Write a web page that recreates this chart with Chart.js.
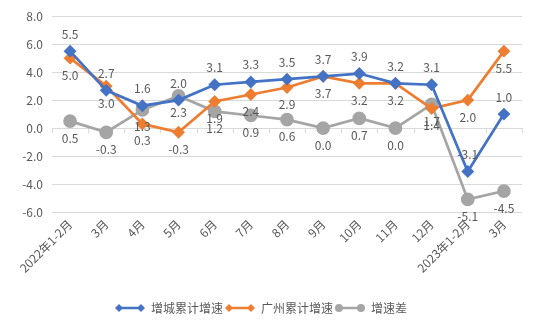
<!DOCTYPE html>
<html>
<head>
<meta charset="utf-8">
<script src="https://cdn.jsdelivr.net/npm/chart.js@4/dist/chart.umd.min.js"></script>
<style>
  html, body { margin: 0; padding: 0; background: #fff; }
  #wrap { width: 537px; height: 324px; }
</style>
</head>
<body>
<div id="wrap"><canvas id="myLineChart"></canvas></div>
<script>
const months = ["2022年1-2月", "3月", "4月", "5月", "6月", "7月", "8月", "9月", "10月", "11月", "12月", "2023年1-2月", "3月"];
const zengcheng = [5.5, 2.7, 1.6, 2.0, 3.1, 3.3, 3.5, 3.7, 3.9, 3.2, 3.1, -3.1, 1.0];
const guangzhou = [5.0, 3.0, 0.3, -0.3, 1.9, 2.4, 2.9, 3.7, 3.2, 3.2, 1.4, 2.0, 5.5];
const gap = [0.5, -0.3, 1.3, 2.3, 1.2, 0.9, 0.6, 0.0, 0.7, 0.0, 1.7, -5.1, -4.5];
const yTicks = [-6, -4, -2, 0, 2, 4, 6, 8];

const FONT = '"Noto Sans CJK SC", "Noto Sans", sans-serif';
const TEXT = "#595959";

// small line+marker picture for the legend
function legendIcon(color, style) {
  const c = document.createElement("canvas");
  c.width = 30;
  c.height = 10;
  const g = c.getContext("2d");
  g.strokeStyle = color;
  g.fillStyle = color;
  g.lineWidth = 2.5;
  g.beginPath();
  g.moveTo(2, 5);
  g.lineTo(28, 5);
  g.stroke();
  [4, 26].forEach(function (x) {
    g.beginPath();
    if (style === "circle") {
      g.arc(x, 5, 4, 0, Math.PI * 2);
    } else {
      g.moveTo(x, 1); g.lineTo(x + 4, 5); g.lineTo(x, 9); g.lineTo(x - 4, 5);
      g.closePath();
    }
    g.fill();
  });
  return c;
}

// value labels next to each point
const valueLabels = {
  id: "valueLabels",
  afterDatasetsDraw(chart) {
    const ctx = chart.ctx;
    ctx.save();
    ctx.font = "12px " + FONT;
    ctx.fillStyle = TEXT;
    ctx.textAlign = "center";
    ctx.textBaseline = "middle";
    chart.data.datasets.forEach(function (ds, i) {
      const meta = chart.getDatasetMeta(i);
      const off = ds.labelOffset;
      meta.data.forEach(function (pt, j) {
        ctx.fillText(ds.data[j].toFixed(1), pt.x, pt.y + off);
      });
    });
    ctx.restore();
  },
};

// small tick marks on the zero line, between categories
const zeroTicks = {
  id: "zeroTicks",
  beforeDatasetsDraw(chart) {
    const x = chart.scales.x;
    const y0 = chart.scales.y.getPixelForValue(0);
    const ctx = chart.ctx;
    const half = (x.getPixelForValue(1) - x.getPixelForValue(0)) / 2;
    ctx.save();
    ctx.strokeStyle = "#d9d9d9";
    ctx.lineWidth = 1;
    for (let k = 0; k <= months.length; k++) {
      const px = Math.round(x.getPixelForValue(0) - half + k * half * 2) + 0.5;
      ctx.beginPath();
      ctx.moveTo(px, y0);
      ctx.lineTo(px, y0 + 5);
      ctx.stroke();
    }
    ctx.restore();
  },
};

const ctx = document.getElementById("myLineChart").getContext("2d");
const myLineChart = new Chart(ctx, {
  type: "line",
  data: {
    labels: months,
    datasets: [
      {
        label: "增城累计增速",
        data: zengcheng,
        borderColor: "#4472C4",
        backgroundColor: "#4472C4",
        borderWidth: 2.75,
        pointStyle: "rectRot",
        pointRadius: 4.5,
        labelOffset: -17,
        icon: legendIcon("#4472C4", "diamond"),
      },
      {
        label: "广州累计增速",
        data: guangzhou,
        borderColor: "#ED7D31",
        backgroundColor: "#ED7D31",
        borderWidth: 2.75,
        pointStyle: "rectRot",
        pointRadius: 4.5,
        labelOffset: 17,
        icon: legendIcon("#ED7D31", "diamond"),
      },
      {
        label: "增速差",
        data: gap,
        borderColor: "#A5A5A5",
        backgroundColor: "#A5A5A5",
        borderWidth: 2.75,
        pointStyle: "circle",
        pointRadius: 5.5,
        labelOffset: 17,
        icon: legendIcon("#A5A5A5", "circle"),
      },
    ],
  },
  options: {
    responsive: true,
    maintainAspectRatio: false,
    animation: { duration: 0 },
    layout: { padding: { top: 12, right: 15, bottom: 0, left: 0 } },
    scales: {
      x: {
        offset: true,
        grid: { display: false, drawTicks: false },
        border: { display: false },
        ticks: {
          minRotation: 45,
          maxRotation: 45,
          padding: 5,
          color: TEXT,
          font: { size: 12, family: FONT },
        },
        afterFit(scale) { scale.height = 88; },
      },
      y: {
        min: -6,
        max: 8,
        afterBuildTicks(scale) {
          scale.ticks = yTicks.map(function (v) { return { value: v }; });
        },
        grid: { color: "#d9d9d9", drawTicks: false },
        border: { display: false },
        ticks: {
          padding: 9,
          color: TEXT,
          font: { size: 12, family: FONT },
          callback: function (value) { return value.toFixed(1); },
        },
        afterFit(scale) { scale.width = 52; },
      },
    },
    plugins: {
      tooltip: { enabled: false },
      legend: {
        position: "bottom",
        labels: {
          usePointStyle: true,
          pointStyleWidth: 30,
          padding: 2,
          color: TEXT,
          font: { size: 12, family: FONT },
          generateLabels(chart) {
            return chart.data.datasets.map(function (ds, i) {
              return {
                text: ds.label,
                pointStyle: ds.icon,
                fillStyle: ds.backgroundColor,
                strokeStyle: ds.borderColor,
                lineWidth: 0,
                fontColor: TEXT,
                datasetIndex: i,
                hidden: false,
              };
            });
          },
        },
      },
    },
  },
  plugins: [zeroTicks, valueLabels],
});
</script>
</body>
</html>
